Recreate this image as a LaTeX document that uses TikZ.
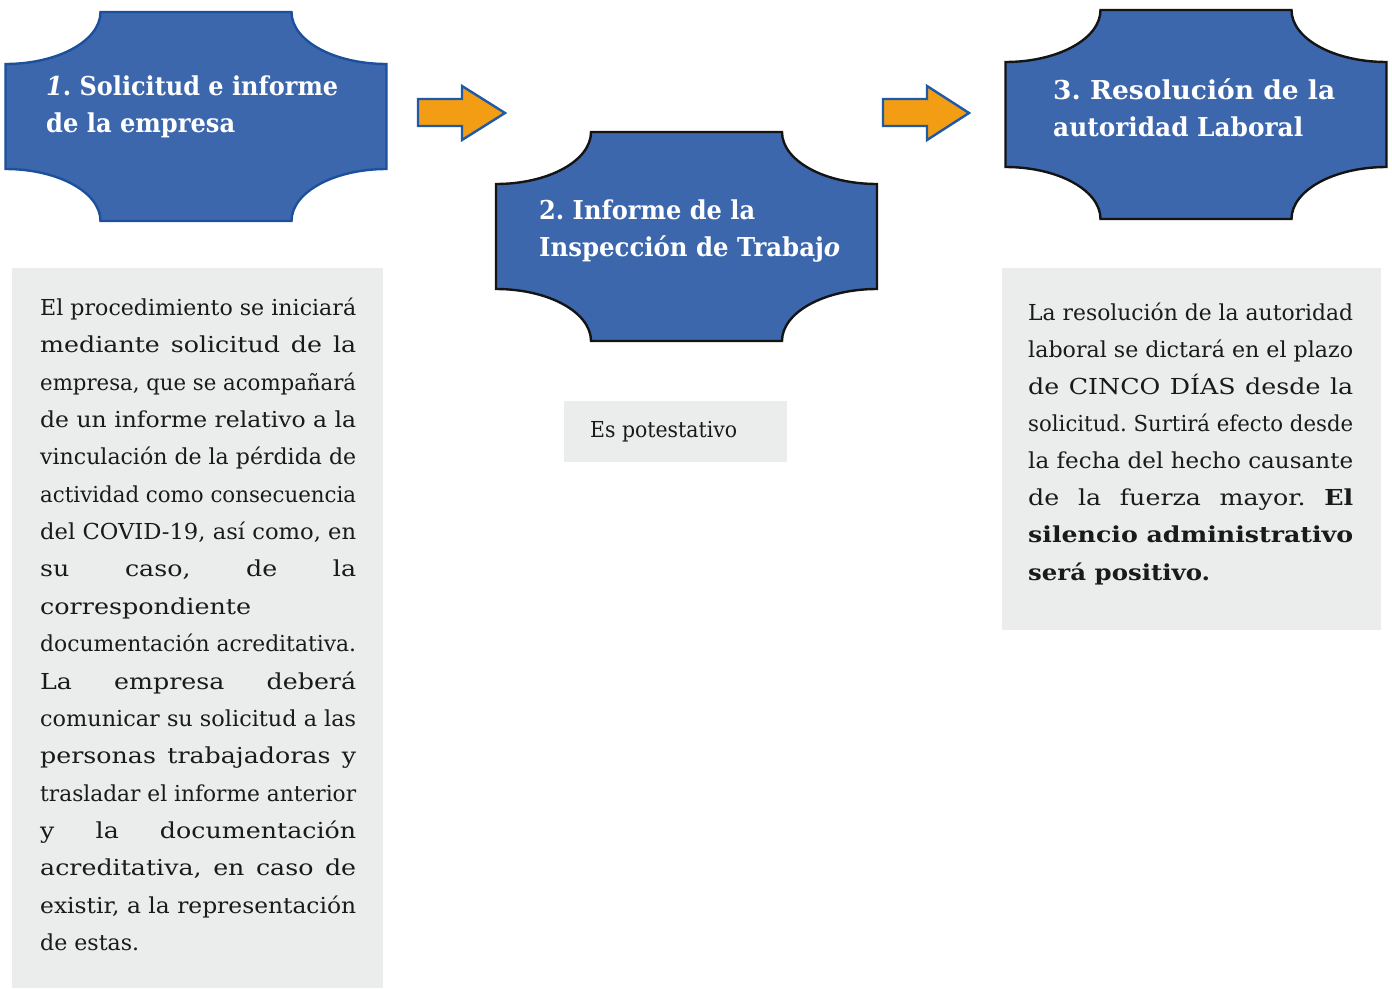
\documentclass[tikz,border=0pt]{standalone}
\usepackage{fontspec}
\setmainfont{DejaVu Serif}
\usepackage{graphicx}
\frenchspacing
\definecolor{plaquefill}{RGB}{60,103,172}
\definecolor{plaqueblue}{RGB}{28,80,156}
\definecolor{plaquedark}{RGB}{20,20,20}
\definecolor{arrowfill}{RGB}{243,157,20}
\definecolor{arrowline}{RGB}{30,90,168}
\definecolor{greybg}{RGB}{235,236,236}
\definecolor{bodytext}{RGB}{26,26,26}
\newsavebox\linebox
\newlength\linew
\newlength\innerw
% justified line: widen glyphs a little (at most 1.15), then stretch spaces; squeeze if too wide
\newcommand\jl[2]{\setlength\linew{#1}\sbox\linebox{#2}%
  \pgfmathsetmacro\lsc{min(1.15,\the\linew/\the\wd\linebox)}%
  \pgfmathsetlength\innerw{\the\linew/\lsc}%
  \scalebox{\lsc}[1]{\makebox[\innerw][s]{#2}}}
% fit to exact width
\newcommand\fw[2]{\sbox\linebox{#2}%
  \pgfmathsetmacro\lsc{#1/\the\wd\linebox}%
  \scalebox{\lsc}[1]{\usebox\linebox}}
\tikzset{
  plaque/.style={fill=plaquefill, line width=2.4pt, line join=miter},
  blockarrow/.style={fill=arrowfill, draw=arrowline, line width=2.4pt, line join=miter},
  greybox/.style={fill=greybg},
  headtxt/.style={anchor=base west, inner sep=0pt, text=white, font=\bfseries\fontsize{26}{30}\selectfont},
  bodytxt/.style={anchor=base west, inner sep=0pt, text=bodytext, font=\fontsize{22}{26}\selectfont},
  pics/plaqueshape/.style={code={
    \path[plaque,#1] (95,0) -- (286,0) .. controls (286,28.7) and (328.5,52) .. (381,52)
      -- (381,157) .. controls (328.5,157) and (286,180.3) .. (286,209)
      -- (95,209) .. controls (95,180.3) and (52.5,157) .. (0,157)
      -- (0,52) .. controls (52.5,52) and (95,28.7) .. (95,0) -- cycle;
  }}
}
\begin{document}
\begin{tikzpicture}[x=1pt,y=-1pt]
\useasboundingbox (0,0) rectangle (1392,988);
\fill[white] (0,0) rectangle (1392,988);

% plaques
\pic at (5.5,12) {plaqueshape={draw=plaqueblue}};
\pic at (496,132) {plaqueshape={draw=plaquedark}};
\pic at (1005.5,10) {plaqueshape={draw=plaquedark}};

% block arrows
\path[blockarrow] (418,99) -- (462,99) -- (462,86) -- (505,113) -- (462,140) -- (462,126) -- (418,126) -- cycle;
\path[blockarrow] (883,99) -- (927,99) -- (927,86) -- (969,113) -- (927,140) -- (927,126) -- (883,126) -- cycle;

% heading texts
\node[headtxt] (h1a) at (46,95) {\fw{292pt}{{\itshape 1}. Solicitud e informe}};
\node[headtxt] (h1b) at (46,132) {\fw{189pt}{de la empresa}};
\node[headtxt] (h2a) at (539,219) {\fw{216pt}{2. Informe de la}};
\node[headtxt] (h2b) at (539,256) {\fw{301pt}{Inspección de Trabaj{\itshape o}}};
\node[headtxt] (h3a) at (1053,99) {\fw{282pt}{3. Resolución de la}};
\node[headtxt] (h3b) at (1053,136) {\fw{250pt}{autoridad Laboral}};

% grey boxes
\path[greybox] (12,268) rectangle (383,988);
\path[greybox] (564,401) rectangle (787,462);
\path[greybox] (1002,268) rectangle (1381,630);

% box 1 text
\node[bodytxt] (b1)  at (40,315.5) {\jl{316pt}{El procedimiento se iniciará}};
\node[bodytxt] (b2)  at (40,352.8) {\jl{316pt}{mediante solicitud de la}};
\node[bodytxt] (b3)  at (40,390.2) {\jl{316pt}{empresa, que se acompañará}};
\node[bodytxt] (b4)  at (40,427.5) {\jl{316pt}{de un informe relativo a la}};
\node[bodytxt] (b5)  at (40,464.9) {\jl{316pt}{vinculación de la pérdida de}};
\node[bodytxt] (b6)  at (40,502.2) {\jl{316pt}{actividad como consecuencia}};
\node[bodytxt] (b7)  at (40,539.6) {\jl{316pt}{del COVID-19, así como, en}};
\node[bodytxt] (b8)  at (40,576.9) {\jl{316pt}{su caso, de la}};
\node[bodytxt] (b9)  at (40,614.3) {\fw{211pt}{correspondiente}};
\node[bodytxt] (b10) at (40,651.6) {\jl{316pt}{documentación acreditativa.}};
\node[bodytxt] (b11) at (40,689.0) {\jl{316pt}{La empresa deberá}};
\node[bodytxt] (b12) at (40,726.3) {\jl{316pt}{comunicar su solicitud a las}};
\node[bodytxt] (b13) at (40,763.7) {\jl{316pt}{personas trabajadoras y}};
\node[bodytxt] (b14) at (40,801.0) {\jl{316pt}{trasladar el informe anterior}};
\node[bodytxt] (b15) at (40,838.4) {\jl{316pt}{y la documentación}};
\node[bodytxt] (b16) at (40,875.7) {\jl{316pt}{acreditativa, en caso de}};
\node[bodytxt] (b17) at (40,913.1) {\jl{316pt}{existir, a la representación}};
\node[bodytxt] (b18) at (40,950.4) {\fw{99pt}{de estas.}};

% box 2 text
\node[bodytxt] (p1) at (590,437) {\fw{147pt}{Es potestativo}};

% box 3 text
\node[bodytxt] (r1) at (1028,320.0) {\jl{325pt}{La resolución de la autoridad}};
\node[bodytxt] (r2) at (1028,357.2) {\jl{325pt}{laboral se dictará en el plazo}};
\node[bodytxt] (r3) at (1028,394.3) {\jl{325pt}{de CINCO DÍAS desde la}};
\node[bodytxt] (r4) at (1028,431.5) {\jl{325pt}{solicitud. Surtirá efecto desde}};
\node[bodytxt] (r5) at (1028,468.6) {\jl{325pt}{la fecha del hecho causante}};
\node[bodytxt] (r6) at (1028,505.8) {\jl{325pt}{de la fuerza mayor. \textbf{El}}};
\node[bodytxt] (r7) at (1028,542.9) {\jl{325pt}{\textbf{silencio administrativo}}};
\node[bodytxt] (r8) at (1028,580.1) {\fw{182pt}{\textbf{será positivo.}}};
\end{tikzpicture}
\end{document}
